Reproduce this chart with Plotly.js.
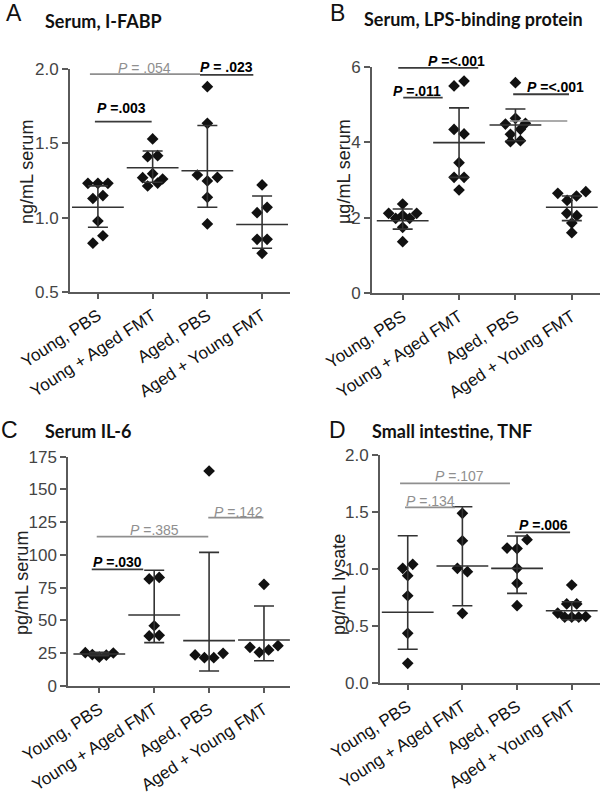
<!DOCTYPE html>
<html><head><meta charset="utf-8">
<script src="https://cdn.plot.ly/plotly-3.0.1.min.js"></script>
<style>html,body{margin:0;padding:0;background:#fff}#chart{width:604px;height:798px}</style>
</head><body><div id="chart"></div>
<script>
// ---------- DATA ----------
const categories = ['Young, PBS', 'Young + Aged FMT', 'Aged, PBS', 'Aged + Young FMT'];

// A: Serum I-FABP (ng/mL serum)
const ifabpPoints = [
  [1.232, 1.232, 1.232, 1.13, 1.15, 0.979, 0.83, 0.88],
  [1.530, 1.411, 1.418, 1.270, 1.297, 1.261, 1.214, 1.234],
  [1.881, 1.635, 1.288, 1.248, 1.272, 1.138, 0.959],
  [1.221, 1.035, 1.071, 0.856, 0.856, 0.762]
];
const ifabpMean  = [1.071, 1.337, 1.317, 0.955];
const ifabpLower = [0.937, 1.239, 1.071, 0.796];
const ifabpUpper = [1.215, 1.449, 1.620, 1.147];

// B: Serum LPS-binding protein (µg/mL serum)
const lbpPoints = [
  [2.364, 2.118, 1.986, 2.065, 1.986, 2.118, 1.747, 1.366],
  [5.49, 5.62, 4.34, 4.22, 3.46, 3.07, 3.07, 2.735],
  [5.576, 4.482, 4.633, 4.50, 4.209, 4.342, 4.014, 4.04],
  [2.648, 2.46, 2.576, 2.69, 2.118, 2.055, 1.86, 1.605]
];
const lbpMean  = [1.922, 3.99, 4.456, 2.277];
const lbpLower = [1.70, 3.07, 4.04, 1.923];
const lbpUpper = [2.232, 4.91, 4.88, 2.576];

// C: Serum IL-6 (pg/mL serum)
const il6Points = [
  [25.4, 24.0, 22.0, 23.5, 25.2],
  [81.7, 82.9, 46.0, 38.2, 38.7],
  [164.1, 23.7, 21.6, 21.6, 24.9],
  [77.6, 29.5, 25.7, 27.5, 30.8]
];
const il6Mean  = [24.4, 54.2, 34.6, 35.1];
const il6Lower = [23.2, 33.1, 11.4, 19.3];
const il6Upper = [25.7, 88.3, 102.0, 61.1];

// D: Small intestine TNF (pg/mL lysate)
const tnfPoints = [
  [1.007, 1.042, 0.943, 0.767, 0.438, 0.175],
  [1.489, 1.249, 1.007, 0.978, 0.613],
  [1.185, 1.18, 1.258, 1.007, 0.876, 0.680],
  [0.861, 0.695, 0.695, 0.615, 0.58, 0.58, 0.58, 0.585]
];
const tnfMean  = [0.622, 1.028, 1.007, 0.636];
const tnfLower = [0.298, 0.68, 0.788, 0.557];
const tnfUpper = [1.293, 1.547, 1.29, 0.715];

// Significance brackets: [from, to, level, label, significant?, label centre, label lift px]
const ifabpSig = [
  [-0.146, 1.866, 1.966, ' = .054', false, 0.86, 6],
  [1.866, 2.84, 1.960, ' = .023', true, 2.35, 8],
  [-0.055, 0.982, 1.646, ' =.003', true, 0.433, 14]
];
const lbpSig = [
  [-0.078, 1.34, 5.97, ' =&lt;.001', true, 0.95, 7],
  [0.01, 0.71, 5.18, ' =.011', true, 0.254, 7],
  [1.96, 2.95, 5.27, ' =&lt;.001', true, 2.71, 7.5]
];
const lbpExtraLine = [1.90, 2.92, 4.56];
const il6Sig = [
  [-0.138, 0.80, 89.0, ' =.030', true, 0.328, 7],
  [-0.047, 1.985, 114.0, ' =.385', false, 1.0, 7],
  [1.985, 2.99, 128.5, ' =.142', false, 2.53, 6]
];
const tnfSig = [
  [-0.14, 1.87, 1.752, ' =.107', false, 0.956, 7],
  [-0.05, 0.865, 1.542, ' =.134', false, 0.41, 6],
  [1.96, 2.97, 1.323, ' =.006', true, 2.49, 7]
];

// ---------- LAYOUT GEOMETRY (pixels) ----------
const W = 604, H = 798;
const panels = [
  {id: '', letter: 'A', title: 'Serum, I-FABP', ytitle: 'ng/mL serum',
   pts: ifabpPoints, mean: ifabpMean, lo: ifabpLower, hi: ifabpUpper, sig: ifabpSig,
   px: [70, 290], py: [69, 292.3], xr: [-0.51, 3.51], yr: [0.5, 2.0], dtick: 0.5, fmt: '.1f',
   letterPos: [14, 13], titlePos: [43, 21], ytPos: [27, 172]},
  {id: '2', letter: 'B', title: 'Serum, LPS-binding protein', ytitle: 'µg/mL serum',
   pts: lbpPoints, mean: lbpMean, lo: lbpLower, hi: lbpUpper, sig: lbpSig,
   px: [372, 600], py: [66.7, 293.3], xr: [-0.544, 3.5], yr: [0, 6], dtick: 2, fmt: 'd',
   letterPos: [337, 13], titlePos: [362, 19], ytPos: [344, 172]},
  {id: '3', letter: 'C', title: 'Serum IL-6', ytitle: 'pg/mL serum',
   pts: il6Points, mean: il6Mean, lo: il6Lower, hi: il6Upper, sig: il6Sig,
   px: [68.3, 290], py: [456.7, 686], xr: [-0.565, 3.474], yr: [0, 175], dtick: 25, fmt: 'd',
   letterPos: [9, 430], titlePos: [43, 431], ytPos: [22, 583]},
  {id: '4', letter: 'D', title: 'Small intestine, TNF', ytitle: 'pg/mL lysate',
   pts: tnfPoints, mean: tnfMean, lo: tnfLower, hi: tnfUpper, sig: tnfSig,
   px: [380, 600], py: [455, 683.3], xr: [-0.507, 3.517], yr: [0, 2], dtick: 0.5, fmt: '.1f',
   letterPos: [337, 430], titlePos: [370, 431], ytPos: [339, 585]}
];

const FONT = 'Arial, "Liberation Sans", sans-serif';
const TITLEFONT = 'Lato, "Open Sans", sans-serif';
const AXIS = '#5a5a5a';
const GRAY = '#8f8f8f';

// Prism-like row swarm: points within ROW_T px (vertically) of a row's first point share a row,
// spread symmetrically about the category centre.
const ROW_T = 9, MAX_SPAN = 28, STEP = 10;
function swarm(values, pxPerY, pxPerX) {
  const idx = values.map((v, i) => i).sort((a, b) => values[b] - values[a]);
  const rows = [];
  idx.forEach(i => {
    const r = rows[rows.length - 1];
    if (r && (values[r[0]] - values[i]) * pxPerY < ROW_T) r.push(i);
    else rows.push([i]);
  });
  const off = new Array(values.length).fill(0);
  rows.forEach(r => {
    r.sort((a, b) => a - b);
    const n = r.length;
    const s = n > 1 ? Math.min(STEP, MAX_SPAN / (n - 1)) : 0;
    r.forEach((i, k) => { off[i] = (k - (n - 1) / 2) * s / pxPerX; });
  });
  return off;
}

const traces = [], shapes = [], annotations = [];
const layout = {
  width: W, height: H, margin: {l: 0, r: 0, t: 0, b: 0},
  paper_bgcolor: '#fff', plot_bgcolor: '#fff', showlegend: false,
  font: {family: FONT, color: '#222'}
};

panels.forEach(p => {
  const xa = 'xaxis' + p.id, ya = 'yaxis' + p.id;
  const xr = 'x' + p.id, yr = 'y' + p.id;
  const pxPerX = (p.px[1] - p.px[0]) / (p.xr[1] - p.xr[0]);
  const pxPerY = (p.py[1] - p.py[0]) / (p.yr[1] - p.yr[0]);

  layout[xa] = {
    domain: [p.px[0] / W, p.px[1] / W], range: p.xr, anchor: yr,
    tickvals: categories.map((c, i) => i), ticktext: categories, tickangle: -33,
    showgrid: false, zeroline: false, showline: true, linecolor: AXIS, linewidth: 2,
    ticks: 'outside', ticklen: 5, tickwidth: 2, tickcolor: AXIS,
    tickfont: {family: FONT, size: 17, color: '#111'}
  };
  layout[ya] = {
    domain: [1 - p.py[1] / H, 1 - p.py[0] / H], range: p.yr, anchor: xr,
    dtick: p.dtick, tick0: 0, tickformat: p.fmt,
    showgrid: false, zeroline: false, showline: true, linecolor: AXIS, linewidth: 2,
    ticks: 'outside', ticklen: 6, tickwidth: 2, tickcolor: AXIS,
    tickfont: {family: FONT, size: 17, color: '#444'}
  };

  // points
  p.pts.forEach((vals, g) => {
    const off = swarm(vals, pxPerY, pxPerX);
    traces.push({
      type: 'scatter', mode: 'markers', xaxis: xr, yaxis: yr, cliponaxis: false,
      x: vals.map((v, i) => g + off[i]), y: vals,
      marker: {symbol: 'diamond', size: 9, color: '#111', line: {width: 0}},
      hoverinfo: 'y'
    });
  });
  // mean line + SD bars
  traces.push({
    type: 'scatter', mode: 'markers', xaxis: xr, yaxis: yr, cliponaxis: false,
    x: categories.map((c, i) => i), y: p.mean,
    marker: {symbol: 'line-ew', size: 37, color: '#333', line: {width: 1.6, color: '#333'}},
    error_y: {type: 'data', symmetric: false,
      array: p.hi.map((h, i) => h - p.mean[i]),
      arrayminus: p.mean.map((m, i) => m - p.lo[i]),
      width: 10, thickness: 1.6, color: '#333'},
    hoverinfo: 'y'
  });

  // significance lines + labels
  p.sig.forEach(s => {
    const col = s[4] ? '#3a3a3a' : GRAY;
    shapes.push({type: 'line', xref: xr, yref: yr, x0: s[0], x1: s[1], y0: s[2], y1: s[2],
      line: {color: col, width: 1.8}});
    const lab = '<i>P</i>' + s[3];
    annotations.push({xref: xr, yref: yr, x: s[5], y: s[2], yanchor: 'middle', xanchor: 'center',
      yshift: s[6], showarrow: false, text: s[4] ? '<b>' + lab + '</b>' : lab,
      font: {family: FONT, size: 14, color: s[4] ? '#000' : GRAY}});
  });

  // panel letter, title, y-axis title
  annotations.push({xref: 'paper', yref: 'paper', x: p.letterPos[0] / W, y: 1 - p.letterPos[1] / H,
    xanchor: 'center', yanchor: 'middle', showarrow: false, text: p.letter,
    font: {family: FONT, size: 23, color: '#111'}});
  annotations.push({xref: 'paper', yref: 'paper', x: p.titlePos[0] / W, y: 1 - p.titlePos[1] / H,
    xanchor: 'left', yanchor: 'middle', showarrow: false, text: '<b>' + p.title + '</b>',
    font: {family: TITLEFONT, size: 18, color: '#111'}});
  annotations.push({xref: 'paper', yref: 'paper', x: p.ytPos[0] / W, y: 1 - p.ytPos[1] / H,
    xanchor: 'center', yanchor: 'middle', showarrow: false, text: p.ytitle, textangle: -90,
    font: {family: FONT, size: 18, color: '#222'}});
});

// stray grey reference line in panel B
shapes.push({type: 'line', xref: 'x2', yref: 'y2', x0: lbpExtraLine[0], x1: lbpExtraLine[1],
  y0: lbpExtraLine[2], y1: lbpExtraLine[2], line: {color: GRAY, width: 1.5}});

layout.shapes = shapes;
layout.annotations = annotations;
Plotly.newPlot('chart', traces, layout, {displayModeBar: false, staticPlot: true});
</script>
</body></html>
